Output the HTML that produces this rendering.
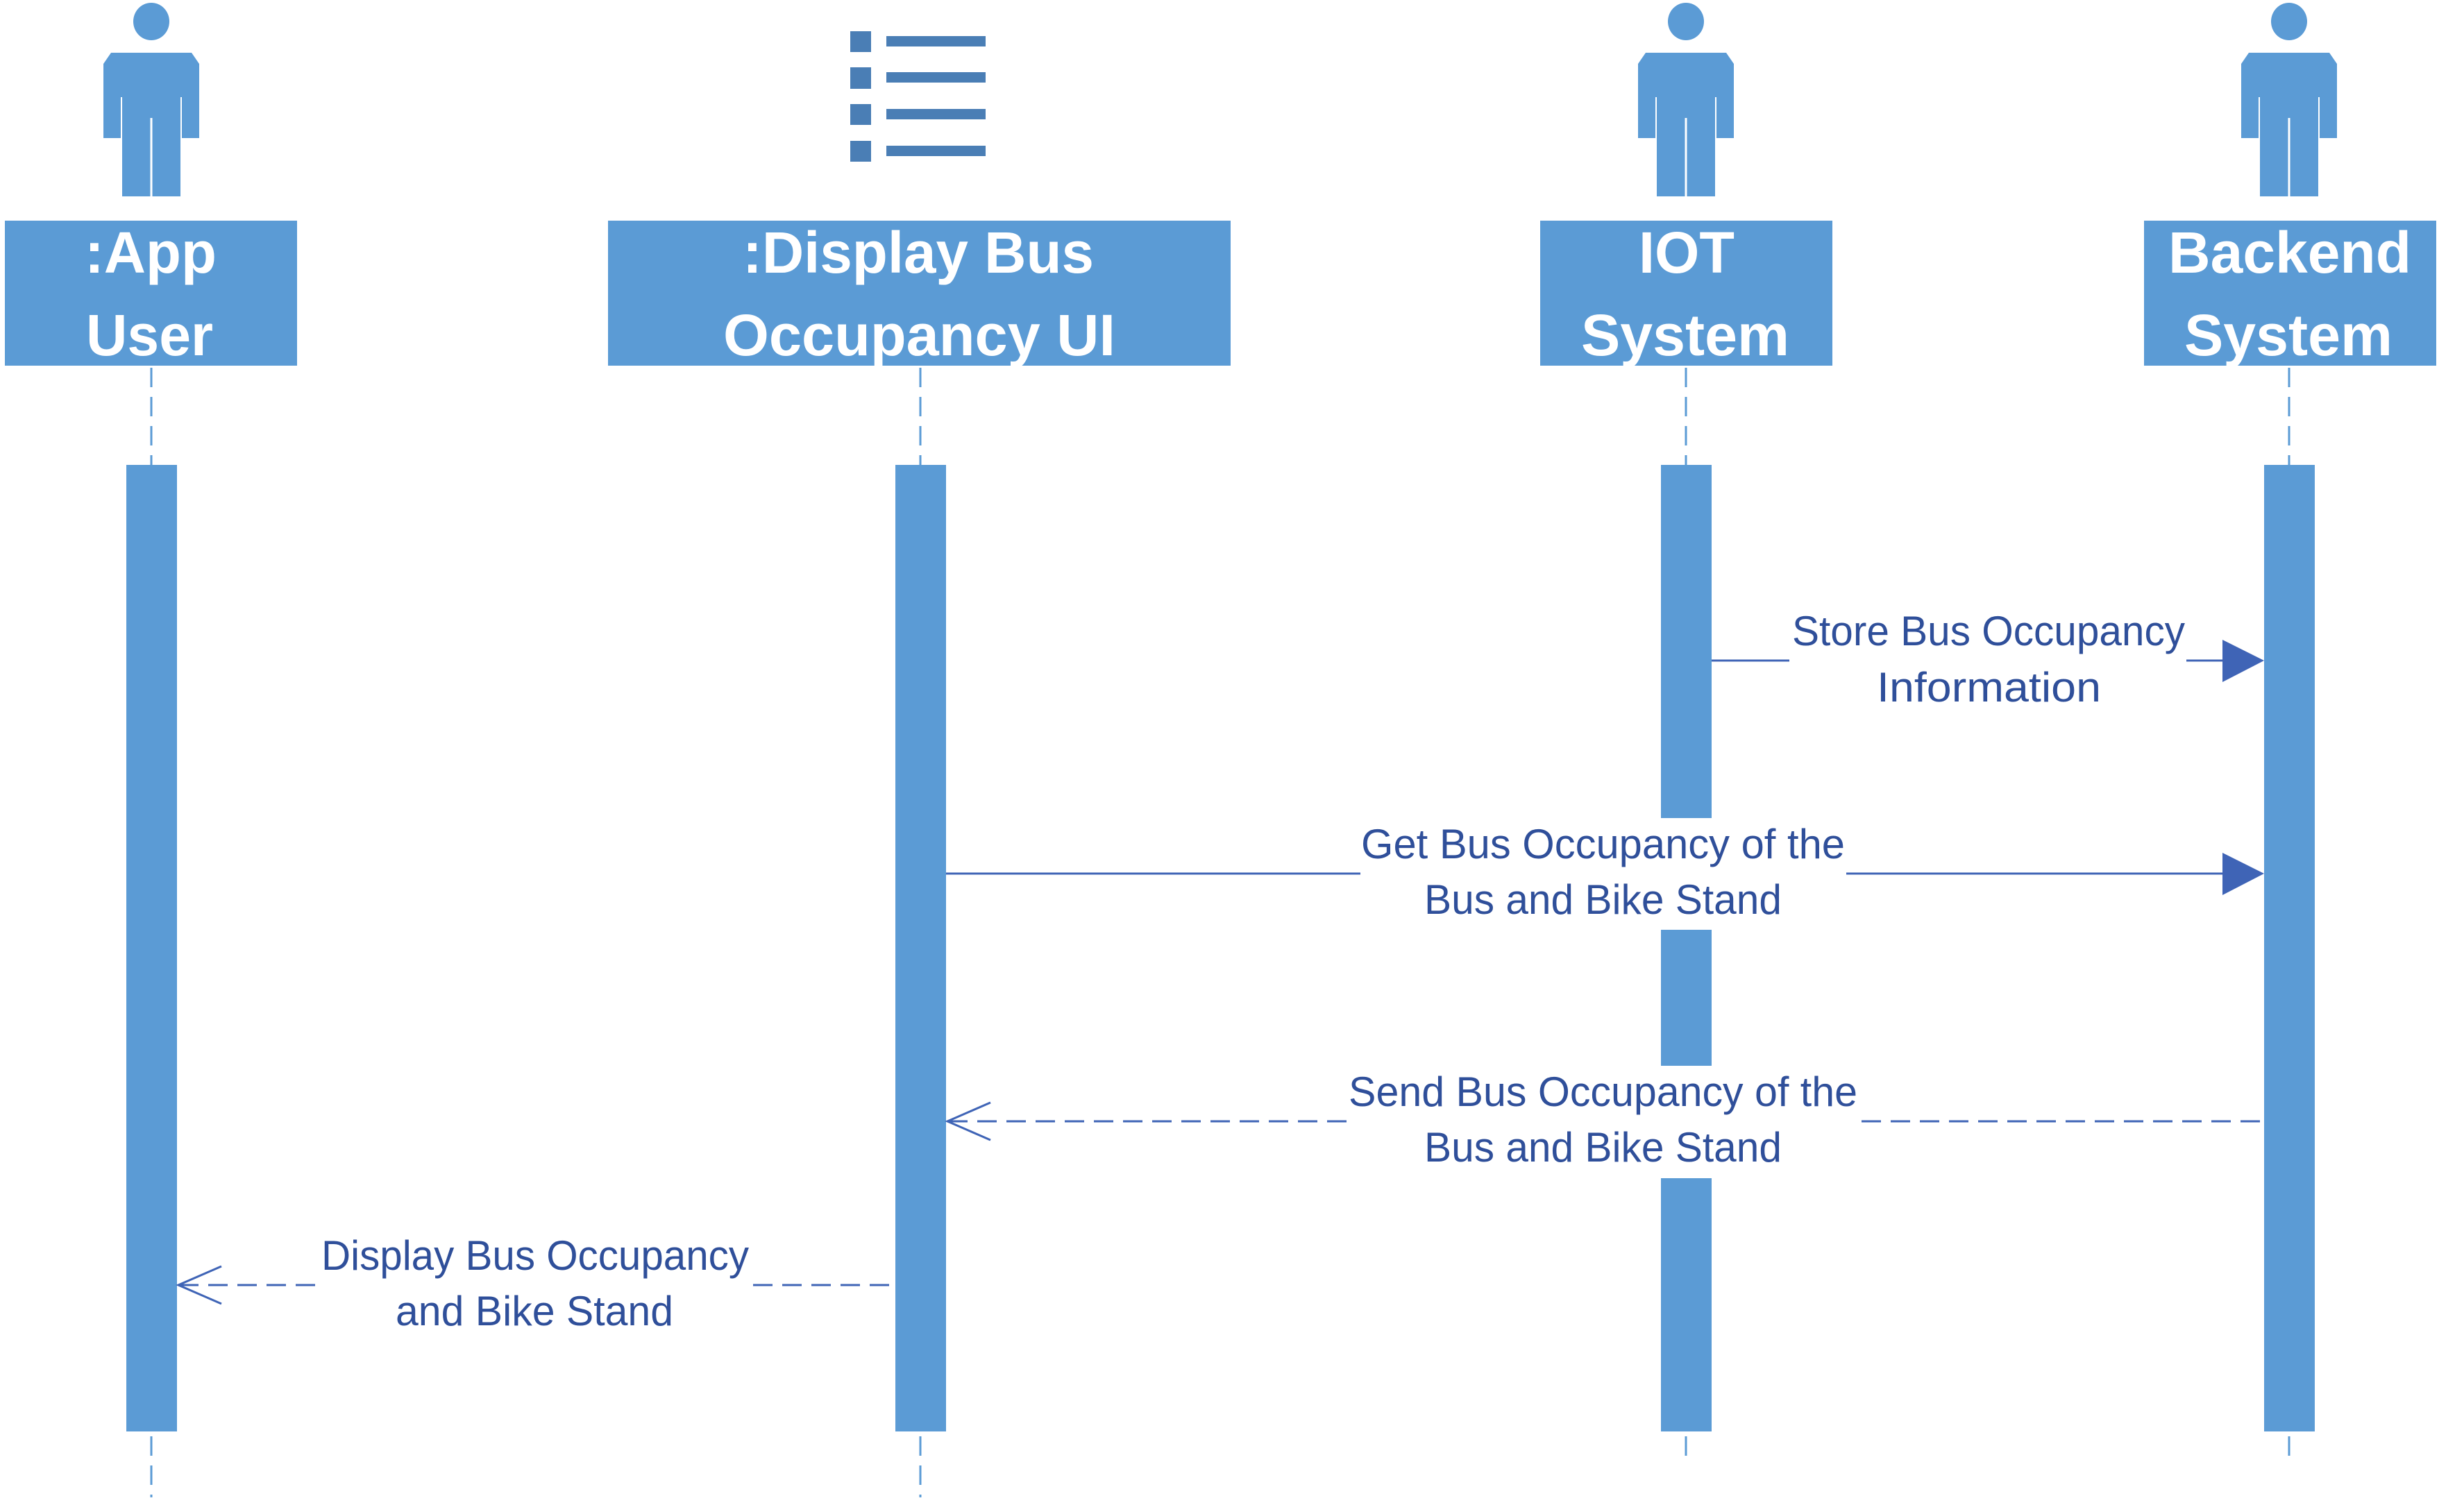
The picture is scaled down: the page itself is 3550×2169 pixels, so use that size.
<!DOCTYPE html>
<html><head><meta charset="utf-8"><style>
html,body{margin:0;padding:0;background:#fff;width:3550px;height:2169px;overflow:hidden}
svg{display:block}
.h{font-family:"Liberation Sans",sans-serif;font-weight:bold;font-size:84px;fill:#fff}
.m{font-family:"Liberation Sans",sans-serif;font-size:60px;fill:#2F4F9A}
</style></head><body>
<svg width="3550" height="2169" viewBox="0 0 3550 2169" xmlns="http://www.w3.org/2000/svg">
<defs>
<g id="actor" fill="#5B9BD5">
<ellipse cx="0" cy="31" rx="26" ry="27"/>
<path d="M-58,76 H58 L69,92 V199 H44 V283 H-44 V199 H-69 V92 Z"/>
<line x1="-43" y1="140" x2="-43" y2="283" stroke="#fff" stroke-width="2"/>
<line x1="43" y1="140" x2="43" y2="283" stroke="#fff" stroke-width="2"/>
<line x1="0" y1="170" x2="0" y2="283" stroke="#fff" stroke-width="3"/>
</g>
</defs>
<use href="#actor" x="218" y="0"/>
<use href="#actor" x="2429" y="0"/>
<use href="#actor" x="3298" y="0"/>
<g fill="#4A7EB5">
<rect x="1225" y="45" width="30" height="30"/><rect x="1277" y="52" width="143" height="15"/>
<rect x="1225" y="97" width="30" height="31"/><rect x="1277" y="104" width="143" height="15"/>
<rect x="1225" y="150" width="30" height="30"/><rect x="1277" y="157" width="143" height="15"/>
<rect x="1225" y="203" width="30" height="30"/><rect x="1277" y="210" width="143" height="15"/>
</g>
<g fill="#5B9BD5">
<rect x="7" y="318" width="421" height="209"/>
<rect x="876" y="318" width="897" height="209"/>
<rect x="2219" y="318" width="421" height="209"/>
<rect x="3089" y="318" width="421" height="209"/>
</g>
<text class="h" x="122" y="393" textLength="190" lengthAdjust="spacingAndGlyphs">:App</text>
<text class="h" x="124" y="512" textLength="183" lengthAdjust="spacingAndGlyphs">User</text>
<text class="h" x="1070" y="393" textLength="506" lengthAdjust="spacingAndGlyphs">:Display Bus</text>
<text class="h" x="1042" y="512" textLength="565" lengthAdjust="spacingAndGlyphs">Occupancy UI</text>
<text class="h" x="2361" y="393" textLength="138" lengthAdjust="spacingAndGlyphs">IOT</text>
<text class="h" x="2278" y="512" textLength="300" lengthAdjust="spacingAndGlyphs">System</text>
<text class="h" x="3124" y="393" textLength="350" lengthAdjust="spacingAndGlyphs">Backend</text>
<text class="h" x="3147" y="512" textLength="300" lengthAdjust="spacingAndGlyphs">System</text>
<g stroke="#5B9BD5" stroke-width="3" stroke-dasharray="28,14">
<line x1="218" y1="530" x2="218" y2="670"/><line x1="218" y1="2070" x2="218" y2="2158"/>
<line x1="1326" y1="530" x2="1326" y2="670"/><line x1="1326" y1="2070" x2="1326" y2="2158"/>
<line x1="2429" y1="530" x2="2429" y2="670"/><line x1="2429" y1="2070" x2="2429" y2="2108"/>
<line x1="3298" y1="530" x2="3298" y2="670"/><line x1="3298" y1="2070" x2="3298" y2="2108"/>
</g>
<g fill="#5B9BD5">
<rect x="182" y="670" width="73" height="1393"/>
<rect x="1290" y="670" width="73" height="1393"/>
<rect x="2393" y="670" width="73" height="509"/>
<rect x="2393" y="1340" width="73" height="196"/>
<rect x="2393" y="1698" width="73" height="365"/>
<rect x="3262" y="670" width="73" height="1393"/>
</g>
<g stroke="#3F64B6" stroke-width="3" fill="none">
<line x1="2466" y1="952" x2="2578" y2="952"/><line x1="3150" y1="952" x2="3206" y2="952"/>
<line x1="1363" y1="1259" x2="1960" y2="1259"/><line x1="2660" y1="1259" x2="3206" y2="1259"/>
<g stroke-dasharray="28,14">
<line x1="1366" y1="1616" x2="1942" y2="1616"/><line x1="2682" y1="1616" x2="3262" y2="1616"/>
<line x1="258" y1="1852" x2="460" y2="1852"/><line x1="1085" y1="1852" x2="1290" y2="1852"/>
</g>
<polyline points="1427,1589 1365,1616 1427,1643"/>
<polyline points="319,1825 257,1852 319,1879"/>
</g>
<g fill="#3F64B6">
<polygon points="3202,922 3262,952 3202,983"/>
<polygon points="3202,1229 3262,1259 3202,1290"/>
</g>
<text class="m" x="2582" y="930" textLength="566" lengthAdjust="spacingAndGlyphs">Store Bus Occupancy</text>
<text class="m" x="2704" y="1011" textLength="323" lengthAdjust="spacingAndGlyphs">Information</text>
<text class="m" x="1961" y="1237" textLength="697" lengthAdjust="spacingAndGlyphs">Get Bus Occupancy of the</text>
<text class="m" x="2052" y="1317" textLength="515" lengthAdjust="spacingAndGlyphs">Bus and Bike Stand</text>
<text class="m" x="1943" y="1594" textLength="733" lengthAdjust="spacingAndGlyphs">Send Bus Occupancy of the</text>
<text class="m" x="2052" y="1674" textLength="515" lengthAdjust="spacingAndGlyphs">Bus and Bike Stand</text>
<text class="m" x="463" y="1830" textLength="616" lengthAdjust="spacingAndGlyphs">Display Bus Occupancy</text>
<text class="m" x="570" y="1910" textLength="400" lengthAdjust="spacingAndGlyphs">and Bike Stand</text>
</svg>
</body></html>
